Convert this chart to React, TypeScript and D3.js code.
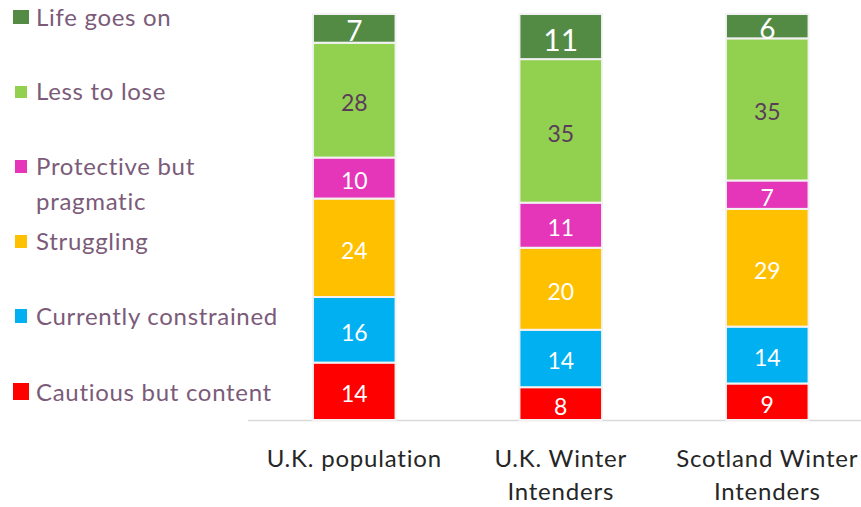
import React from "react";
import * as d3 from "d3";

const categories = ["U.K. population", "U.K. Winter Intenders", "Scotland Winter Intenders"];
const categoryLines = [["U.K. population"], ["U.K. Winter", "Intenders"], ["Scotland Winter", "Intenders"]];
const segments = ["Cautious but content", "Currently constrained", "Struggling", "Protective but pragmatic", "Less to lose", "Life goes on"];
const cautious = [14, 8, 9];
const constrained = [16, 14, 14];
const struggling = [24, 20, 29];
const protective = [10, 11, 7];
const lessToLose = [28, 35, 35];
const lifeGoesOn = [7, 11, 6];
const series = [cautious, constrained, struggling, protective, lessToLose, lifeGoesOn];
const colors = ["#ff0000", "#00b0f0", "#ffc000", "#e535b8", "#92d050", "#538b45"];
const labelColors = ["#ffffff", "#ffffff", "#ffffff", "#ffffff", "#5b3d5a", "#ffffff"];
const legendLines = [["Cautious but content"], ["Currently constrained"], ["Struggling"], ["Protective but", "pragmatic"], ["Less to lose"], ["Life goes on"]];
const legendBaseline = [401, 325, 250, 175, 100, 26];
const legendBox = [[13, 383, 16, 17], [15, 309, 12, 14], [15, 235, 12, 13], [15, 160, 12, 13], [15, 86, 12, 12], [13, 10, 16, 14]];

const W = 861, H = 507;
const FONT = "Lato, 'Open Sans', sans-serif";

export default function App() {
  const x = d3.scaleBand<string>().domain(categories).range([251, 870.5]).paddingInner(0.6).paddingOuter(0.3);
  const y = d3.scaleLinear().domain([0, 1]).range([420, 14]);
  const rows = categories.map((c, i) => {
    const r: any = { cat: c };
    segments.forEach((s, j) => (r[s] = series[j][i]));
    return r;
  });
  const stacked = d3.stack<any>().keys(segments).offset(d3.stackOffsetExpand)(rows);
  return (
    <svg width={W} height={H} style={{ position: "absolute", left: 0, top: 0, background: "#fff" }}>
      <line x1={248} x2={861} y1={420.5} y2={420.5} stroke="#d9d9d9" strokeWidth={1.5} />
      {stacked.map((layer, j) => (
        <g key={j}>
          {layer.map((d, i) => {
            const x0 = x(categories[i])!;
            const bw = x.bandwidth();
            const yt = y(d[1]);
            const yb = y(d[0]);
            const big = j === 5;
            const fs = big ? (series[j][i] >= 10 ? 30 : 28) : 23;
            return (
              <g key={i}>
                <rect x={x0} y={yt} width={bw} height={yb - yt} fill={colors[j]} stroke="#f2f2f2" strokeWidth={2} />
                <text x={x0 + bw / 2} y={(yt + yb) / 2 + 2} textAnchor="middle" dominantBaseline="central"
                  fontFamily={FONT} fontSize={fs} fill={labelColors[j]}>
                  {series[j][i]}
                </text>
              </g>
            );
          })}
        </g>
      ))}
      {categoryLines.map((lines, i) => (
        <text key={i} x={x(categories[i])! + x.bandwidth() / 2} y={467} textAnchor="middle"
          fontFamily={FONT} fontSize={24} letterSpacing={0.8} fill="#262626">
          {lines.map((l, k) => (
            <tspan key={k} x={x(categories[i])! + x.bandwidth() / 2} dy={k === 0 ? 0 : 33}>{l}</tspan>
          ))}
        </text>
      ))}
      {legendLines.map((lines, j) => {
        const b = legendBox[j];
        return (
          <g key={j}>
            <rect x={b[0]} y={b[1]} width={b[2]} height={b[3]} fill={colors[j]} />
            <text x={36} y={legendBaseline[j]} fontFamily={FONT} fontSize={24} letterSpacing={0.7} fill="#7b5b79">
              {lines.map((l, k) => (
                <tspan key={k} x={36} dy={k === 0 ? 0 : 35}>{l}</tspan>
              ))}
            </text>
          </g>
        );
      })}
    </svg>
  );
}
